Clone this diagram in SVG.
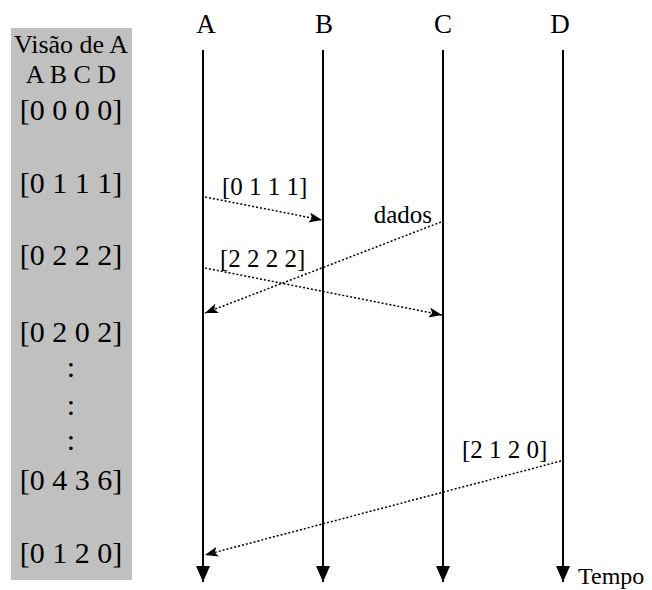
<svg xmlns="http://www.w3.org/2000/svg" width="652" height="590" viewBox="0 0 652 590">
<style>
text{font-family:"Liberation Serif","Times New Roman",Times,serif;fill:#000}
.col{font-size:30px;text-anchor:middle}
.hd{font-size:26px;text-anchor:middle}
.name{font-size:27px;text-anchor:middle}
.lbl{font-size:25px}
.life{stroke:#000;stroke-width:2;fill:none;marker-end:url(#tri)}
.msg{stroke:#000;stroke-width:1.5;stroke-dasharray:2 2;fill:none;marker-end:url(#barb)}
</style>
<defs>
<marker id="tri" markerUnits="userSpaceOnUse" markerWidth="16" markerHeight="14" refX="16" refY="7" orient="auto"><path d="M0,0 L16,7 L0,14 z" fill="#000"/></marker>
<marker id="barb" markerUnits="userSpaceOnUse" markerWidth="13" markerHeight="10" refX="13" refY="5" orient="auto"><path d="M0,0 L13,5 L0,10 L3,5 z" fill="#000"/></marker>
</defs>
<g id="view">
<rect x="11" y="28" width="121" height="552" fill="#c0c0c0"/>
<text class="hd" x="71" y="53">Visão de A</text>
<text class="hd" x="71" y="83">A B C D</text>
<text class="col" x="71" y="120">[0 0 0 0]</text>
<text class="col" x="71" y="193">[0 1 1 1]</text>
<text class="col" x="71" y="265">[0 2 2 2]</text>
<text class="col" x="71" y="342">[0 2 0 2]</text>
<text class="col" x="71" y="377">:</text>
<text class="col" x="71" y="415">:</text>
<text class="col" x="71" y="450">:</text>
<text class="col" x="71" y="490">[0 4 3 6]</text>
<text class="col" x="71" y="563">[0 1 2 0]</text>
</g>
<g id="A"><text class="name" x="206" y="33">A</text><line class="life" x1="203" y1="50" x2="203" y2="582"/></g>
<g id="B"><text class="name" x="324" y="33">B</text><line class="life" x1="323" y1="50" x2="323" y2="582"/></g>
<g id="C"><text class="name" x="443" y="33">C</text><line class="life" x1="443" y1="50" x2="443" y2="582"/></g>
<g id="D"><text class="name" x="560" y="33">D</text><line class="life" x1="563" y1="50" x2="563" y2="582"/><text x="578" y="584" style="font-size:24px">Tempo</text></g>
<g id="connectors">
<line class="msg" x1="205" y1="197" x2="322" y2="220"/>
<text class="lbl" x="222" y="195">[0 1 1 1]</text>
<line class="msg" x1="441" y1="222" x2="205" y2="313"/>
<text class="lbl" x="432" y="223" text-anchor="end">dados</text>
<line class="msg" x1="205" y1="268" x2="442" y2="315"/>
<text class="lbl" x="220" y="267">[2 2 2 2]</text>
<line class="msg" x1="561" y1="461" x2="205" y2="555"/>
<text class="lbl" x="462" y="458">[2 1 2 0]</text>
</g>
</svg>
